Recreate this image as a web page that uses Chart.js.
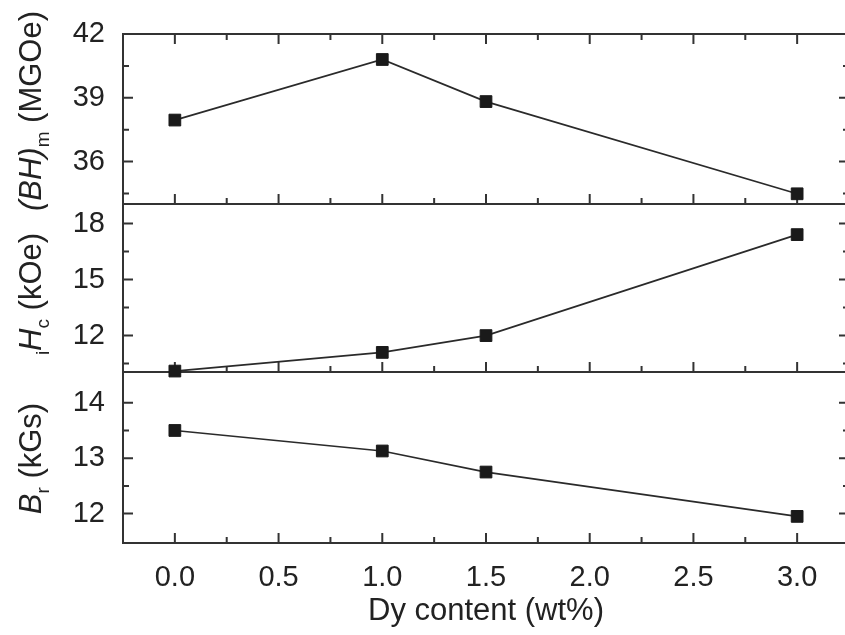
<!DOCTYPE html>
<html><head><meta charset="utf-8">
<script src="https://cdn.jsdelivr.net/npm/chart.js@4/dist/chart.umd.min.js"></script>
<style>
html,body{margin:0;padding:0;overflow:hidden;background:#fff;width:845px;height:635px}
#wrap{position:absolute;left:0;top:0;width:860px;height:635px}
</style>
</head><body><div id="wrap"><canvas id="c" width="860" height="635"></canvas></div>
<script>
// ---- data ----
const dyContent = [0.0, 1.0, 1.5, 3.0];
const bhMax = [37.95, 40.8, 38.82, 34.48];
const hcValues = [10.1, 11.1, 12.0, 17.41];
const brValues = [13.5, 13.13, 12.75, 11.95];
// ---- tick labels ----
const xTicks = [0.0, 0.5, 1.0, 1.5, 2.0, 2.5, 3.0];
const bhTicks = [36, 39, 42];
const hcTicks = [12, 15, 18];
const brTicks = [12, 13, 14];
// ---- texts ----
const xTitle = 'Dy content (wt%)';
const bhTitle = [['(BH)', 'i'], ['m', 'sub'], [' (MGOe)', 'n']];
const hcTitle = [['i', 'sub'], ['H', 'i'], ['c', 'sub'], [' (kOe)', 'n']];
const brTitle = [['B', 'i'], ['r', 'sub'], [' (kGs)', 'n']];

const FAM = '"Liberation Sans", Arial, Helvetica, sans-serif';
const INK = '#222';
const FRAME = '#333';

function toPts(ys) { return dyContent.map((x, i) => ({x: x, y: ys[i]})); }
function setTicks(arr) { return function (s) { s.ticks = arr.map(v => ({value: v})); }; }

const ds = (data, axis) => ({
  data: toPts(data), yAxisID: axis, xAxisID: 'x',
  borderColor: '#2a2a2a', borderWidth: 1.7,
  pointStyle: 'rect', pointRadius: 8.3,
  pointBackgroundColor: '#1a1a1a', pointBorderColor: '#1a1a1a', pointBorderWidth: 1,
  tension: 0, clip: false
});

const yCommon = (min, max, ticks, weight) => ({
  type: 'linear', position: 'left', stack: 'panels', stackWeight: 1,
  weight: weight, min: min, max: max,
  grid: {display: false}, border: {display: false},
  afterBuildTicks: setTicks(ticks),
  afterFit: s => { s.width = 123; },
  ticks: {color: INK, padding: 10, font: {family: FAM, size: 29}, callback: v => String(v)}
});

const scales = {
  x: {
    type: 'linear', position: 'bottom', min: -0.25, max: 3.25,
    grid: {display: false}, border: {display: false},
    afterBuildTicks: setTicks(xTicks),
    afterFit: s => { s.height = 92; },
    ticks: {color: INK, padding: 10, font: {family: FAM, size: 29}, callback: v => Number(v).toFixed(1)},
    title: {display: true, text: xTitle, color: INK, font: {family: FAM, size: 31}, padding: {top: 0, bottom: 5}}
  },
  yBH: yCommon(34, 42, bhTicks, 3),
  yHc: yCommon(10.05, 19.05, hcTicks, 2),
  yBr: yCommon(11.47, 14.555, brTicks, 1)
};
scales.yBH.stackWeight = 170;
scales.yHc.stackWeight = 168;
scales.yBr.stackWeight = 171;

function minorValues(vals, min, max) {
  const step = vals[1] - vals[0];
  const out = [];
  for (let v = vals[0] - step / 2; v <= max; v += step) {
    if (v >= min) out.push(v);
  }
  return out;
}

const framePlugin = {
  id: 'frames',
  beforeDatasetsDraw(chart) {
    const ctx = chart.ctx, ca = chart.chartArea, xs = chart.scales.x;
    const L = ca.left, R = ca.right;
    const MAJ = 10, MIN = 6;
    ctx.save();
    ctx.strokeStyle = FRAME;
    ctx.lineWidth = 2;
    const xMaj = xTicks.map(v => xs.getPixelForValue(v));
    const xMin = minorValues(xTicks, xs.min, xs.max).map(v => xs.getPixelForValue(v));
    ['yBH', 'yHc', 'yBr'].forEach((id, k) => {
      const s = chart.scales[id];
      const T = s.top, B = s.bottom;
      ctx.strokeRect(L, T, R - L, B - T);
      ctx.beginPath();
      const yt = s.ticks.map(t => t.value);
      yt.forEach(v => {
        const p = s.getPixelForValue(v);
        if (p < T + 3 || p > B - 3) return;
        ctx.moveTo(L, p); ctx.lineTo(L + MAJ, p);
        ctx.moveTo(R, p); ctx.lineTo(R - MAJ, p);
      });
      minorValues(yt, s.min, s.max).forEach(v => {
        const p = s.getPixelForValue(v);
        if (p < T + 4 || p > B - 4) return;
        ctx.moveTo(L, p); ctx.lineTo(L + MIN, p);
        ctx.moveTo(R, p); ctx.lineTo(R - MIN, p);
      });
      xMaj.forEach(p => { ctx.moveTo(p, B); ctx.lineTo(p, B - MAJ); });
      xMin.forEach(p => { ctx.moveTo(p, B); ctx.lineTo(p, B - MIN); });
      if (k === 0) {
        xMaj.forEach(p => { ctx.moveTo(p, T); ctx.lineTo(p, T + MAJ); });
        xMin.forEach(p => { ctx.moveTo(p, T); ctx.lineTo(p, T + MIN); });
      }
      ctx.stroke();
    });
    ctx.restore();
  }
};

function fontFor(kind) {
  if (kind === 'sub') return '19px ' + FAM;
  if (kind === 'i') return 'italic 31px ' + FAM;
  return '31px ' + FAM;
}
function drawVerticalRich(ctx, runs, bx, cy) {
  let total = 0;
  const parts = runs.map(([t, kind]) => {
    ctx.font = fontFor(kind);
    const w = ctx.measureText(t).width;
    total += w;
    return {t, kind, w};
  });
  ctx.save();
  ctx.translate(bx, cy);
  ctx.rotate(-Math.PI / 2);
  ctx.fillStyle = INK;
  ctx.textAlign = 'left';
  ctx.textBaseline = 'alphabetic';
  let x = -total / 2;
  parts.forEach(p => {
    ctx.font = fontFor(p.kind);
    ctx.fillText(p.t, x, p.kind === 'sub' ? 8 : 0);
    x += p.w;
  });
  ctx.restore();
}

const titlePlugin = {
  id: 'ytitles',
  afterDraw(chart) {
    const ctx = chart.ctx;
    const sBH = chart.scales.yBH, sHc = chart.scales.yHc, sBr = chart.scales.yBr;
    drawVerticalRich(ctx, bhTitle, 41, (sBH.top + sBH.bottom) / 2 - 8);
    drawVerticalRich(ctx, hcTitle, 41, (sHc.top + sHc.bottom) / 2 + 6);
    drawVerticalRich(ctx, brTitle, 41, (sBr.top + sBr.bottom) / 2 + 1);
  }
};

new Chart(document.getElementById('c'), {
  type: 'line',
  data: {datasets: [ds(bhMax, 'yBH'), ds(hcValues, 'yHc'), ds(brValues, 'yBr')]},
  options: {
    responsive: false, animation: false, devicePixelRatio: 1,
    layout: {padding: {top: 34, right: 11, bottom: 0, left: 0}},
    plugins: {legend: {display: false}, tooltip: {enabled: false}},
    scales: scales
  },
  plugins: [framePlugin, titlePlugin]
});
</script>
</body></html>
